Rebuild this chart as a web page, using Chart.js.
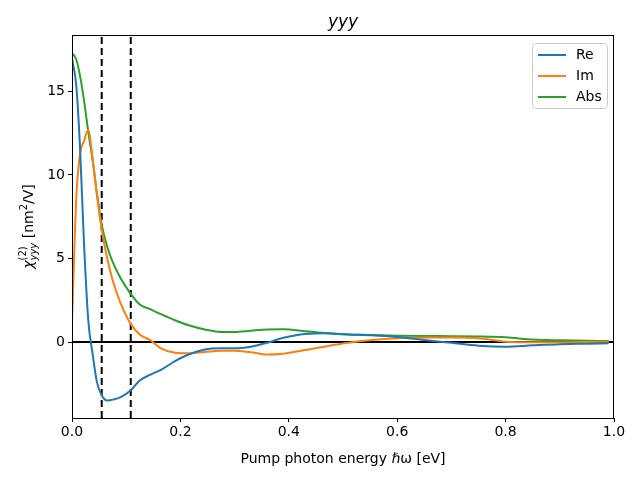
<!DOCTYPE html>
<html>
<head>
<meta charset="utf-8">
<script src="https://cdn.jsdelivr.net/npm/chart.js@4"></script>
<style>
  html, body { margin: 0; padding: 0; background: #fff; }
  #wrap { width: 640px; height: 480px; }
</style>
</head>
<body>
<div id="wrap"><canvas id="chart" width="640" height="480"></canvas></div>
<script>
// pump photon energy (eV)
const energy = [0, 0.008, 0.015, 0.022, 0.03, 0.038, 0.046, 0.055, 0.065, 0.075, 0.09, 0.108,
  0.125, 0.145, 0.165, 0.19, 0.215, 0.245, 0.275, 0.30, 0.33, 0.36, 0.39, 0.43, 0.47, 0.51,
  0.55, 0.6, 0.65, 0.7, 0.75, 0.8, 0.85, 0.9, 0.95, 0.99];

const reVals = [17.0, 15.3, 11.5, 6.0, 1.3, -0.7, -2.4, -3.2, -3.5, -3.45, -3.3, -2.9,
  -2.3, -1.95, -1.65, -1.15, -0.75, -0.45, -0.38, -0.38, -0.28, -0.05, 0.25, 0.48, 0.52, 0.45,
  0.4, 0.3, 0.12, -0.05, -0.22, -0.28, -0.2, -0.13, -0.1, -0.08];

const imVals = [1.2, 8.7, 11.3, 12.0, 12.7, 11.0, 8.8, 6.7, 5.0, 3.7, 2.3, 1.1,
  0.45, 0.1, -0.4, -0.65, -0.68, -0.6, -0.52, -0.52, -0.62, -0.75, -0.7, -0.48, -0.25, -0.05,
  0.1, 0.22, 0.27, 0.27, 0.22, 0.02, -0.02, -0.02, 0.0, 0.02];

const absVals = [17.3, 16.9, 15.9, 14.5, 12.6, 10.9, 8.9, 7.0, 5.7, 4.8, 3.8, 2.9,
  2.25, 1.95, 1.65, 1.3, 1.0, 0.75, 0.6, 0.6, 0.68, 0.75, 0.76, 0.65, 0.52, 0.45,
  0.42, 0.38, 0.36, 0.35, 0.33, 0.28, 0.15, 0.1, 0.07, 0.06];

// vertical marker energies (dashed lines)
const markers = [0.0548, 0.1084];
const xTicks = [0, 0.2, 0.4, 0.6, 0.8, 1.0];
const yTicks = [0, 5, 10, 15];

const FONT = '"DejaVu Sans", sans-serif';

function pts(ys) {
    return energy.map((e, i) => ({ x: e, y: ys[i] }));
}

const series = [
    { label: 'Re', data: reVals, color: '#1f77b4' },
    { label: 'Im', data: imVals, color: '#ff7f0e' },
    { label: 'Abs', data: absVals, color: '#2ca02c' }
];

const datasets = [];
// horizontal zero line
datasets.push({
    label: '_zero', data: [{ x: 0, y: 0 }, { x: 1, y: 0 }],
    borderColor: '#000', borderWidth: 2, pointRadius: 0, order: 10
});
markers.forEach(m => {
    datasets.push({
        label: '_marker', data: [{ x: m, y: -4.55 }, { x: m, y: 18.38 }],
        borderColor: '#000', borderWidth: 2, borderDash: [7, 4], pointRadius: 0, order: 10
    });
});
series.forEach(s => {
    datasets.push({
        label: s.label, data: pts(s.data),
        borderColor: s.color, backgroundColor: s.color,
        borderWidth: 2, pointRadius: 0,
        cubicInterpolationMode: 'monotone', order: 1
    });
});

// custom drawing: frame, title, y label, legend
const decorations = {
    id: 'decorations',
    afterDraw(chart) {
        const ctx = chart.ctx;
        const a = chart.chartArea;
        ctx.save();
        ctx.strokeStyle = '#000';
        ctx.lineWidth = 1;
        ctx.strokeRect(a.left + 0.5, a.top + 0.5, a.right - a.left - 1, a.bottom - a.top);

        // title
        ctx.fillStyle = '#000';
        ctx.font = 'italic 17px ' + FONT;
        ctx.textAlign = 'center';
        ctx.textBaseline = 'alphabetic';
        ctx.fillText('yyy', (a.left + a.right) / 2, 27);

        // y label, rotated
        ctx.save();
        ctx.translate(33, (a.top + a.bottom) / 2);
        ctx.rotate(-Math.PI / 2);
        const parts = [
            { t: 'χ', f: 'italic 14px ' + FONT, dy: 0 },
            { t: '(2)', f: '10px ' + FONT, dy: -7 },
            { t: 'yyy', f: 'italic 10px ' + FONT, dy: 4 },
            { t: ' [nm', f: '14px ' + FONT, dy: 0 },
            { t: '2', f: '10px ' + FONT, dy: -6 },
            { t: '/V]', f: '14px ' + FONT, dy: 0 }
        ];
        const widths = parts.map(p => {
            ctx.font = p.f;
            return ctx.measureText(p.t).width;
        });
        // subscript sits under superscript, so only the wider one counts
        const total = widths[0] + Math.max(widths[1], widths[2]) + widths[3] + widths[4] + widths[5];
        let x = -total / 2;
        ctx.textAlign = 'left';
        ctx.font = parts[0].f; ctx.fillText(parts[0].t, x, parts[0].dy); x += widths[0];
        ctx.font = parts[1].f; ctx.fillText(parts[1].t, x, parts[1].dy);
        ctx.font = parts[2].f; ctx.fillText(parts[2].t, x, parts[2].dy);
        x += Math.max(widths[1], widths[2]);
        for (let i = 3; i < parts.length; i++) {
            ctx.font = parts[i].f;
            ctx.fillText(parts[i].t, x, parts[i].dy);
            x += widths[i];
        }
        ctx.restore();

        // legend
        const lx = 532, ly = 43, lw = 75, lh = 65;
        ctx.fillStyle = 'rgba(255,255,255,0.8)';
        ctx.strokeStyle = '#cccccc';
        ctx.lineWidth = 1;
        ctx.beginPath();
        ctx.roundRect(lx + 0.5, ly + 0.5, lw, lh, 3);
        ctx.fill();
        ctx.stroke();
        ctx.font = '14px ' + FONT;
        ctx.textBaseline = 'middle';
        ctx.textAlign = 'left';
        series.forEach((s, i) => {
            const yy = ly + 12 + i * 21;
            ctx.strokeStyle = s.color;
            ctx.lineWidth = 2;
            ctx.beginPath();
            ctx.moveTo(lx + 6, yy);
            ctx.lineTo(lx + 34, yy);
            ctx.stroke();
            ctx.fillStyle = '#000';
            ctx.fillText(s.label, lx + 44, yy);
        });
        ctx.restore();
    }
};

new Chart(document.getElementById('chart'), {
    type: 'line',
    data: { datasets: datasets },
    options: {
        responsive: false,
        animation: false,
        layout: { padding: { top: 35, right: 26, left: 0, bottom: 0 } },
        plugins: {
            legend: { display: false },
            title: { display: false },
            tooltip: { enabled: false }
        },
        scales: {
            x: {
                type: 'linear', min: 0, max: 1,
                afterBuildTicks: axis => { axis.ticks = xTicks.map(v => ({ value: v })); },
                afterFit: axis => { axis.height = 62; },
                ticks: {
                    color: '#000', font: { family: FONT, size: 14 }, padding: 2,
                    maxRotation: 0, callback: v => v.toFixed(1)
                },
                grid: { display: true, drawOnChartArea: false, drawTicks: true, tickLength: 4, color: '#000' },
                border: { display: true, color: '#000' },
                title: {
                    display: true, text: 'Pump photon energy ℏω [eV]',
                    color: '#000', font: { family: FONT, size: 14 }, padding: { top: 4, bottom: 12 }
                }
            },
            y: {
                type: 'linear', min: -4.55, max: 18.38,
                afterBuildTicks: axis => { axis.ticks = yTicks.map(v => ({ value: v })); },
                afterFit: axis => { axis.width = 72; },
                ticks: { color: '#000', font: { family: FONT, size: 14 }, padding: 3 },
                grid: { display: true, drawOnChartArea: false, drawTicks: true, tickLength: 4, color: '#000' },
                border: { display: true, color: '#000' }
            }
        }
    },
    plugins: [decorations]
});
</script>
</body>
</html>
